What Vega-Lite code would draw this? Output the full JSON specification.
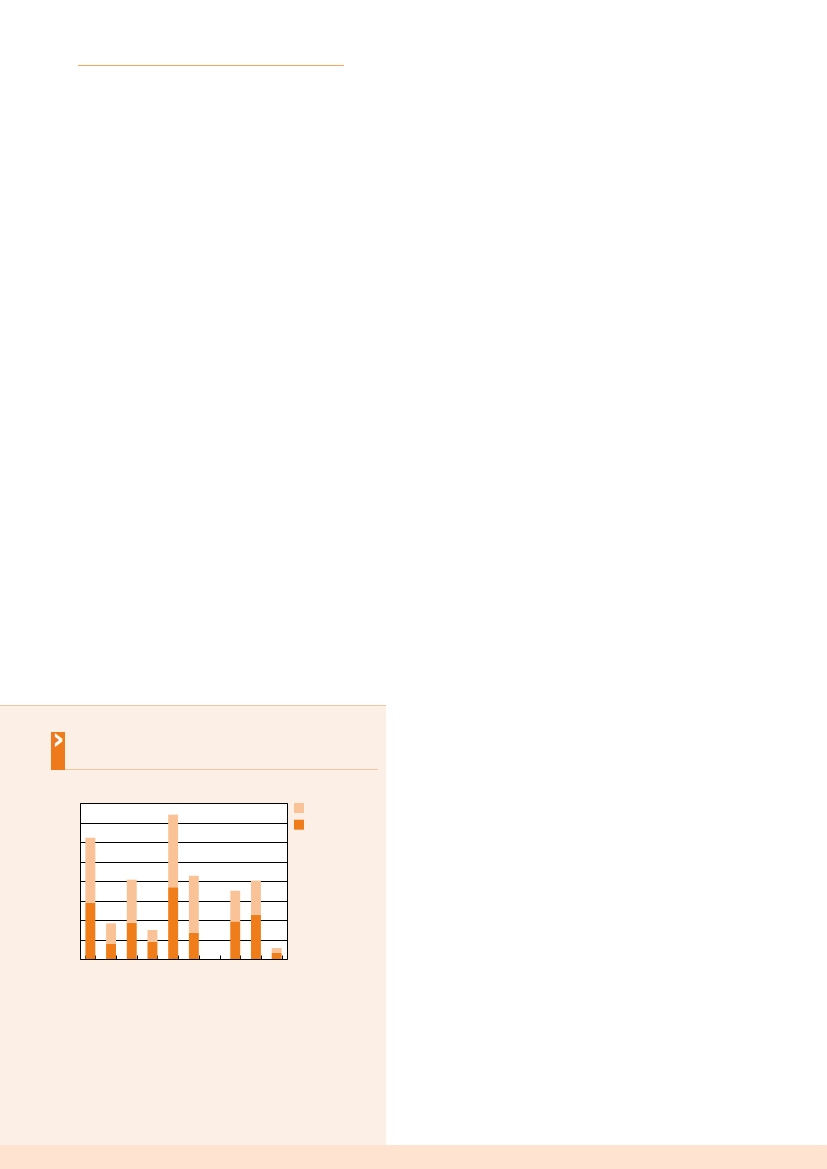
{
  "$schema": "https://vega.github.io/schema/vega-lite/v6.json",
  "background": "#FCF0E6",
  "padding": 0,
  "spacing": 0,
  "config": {"view": {"stroke": null}, "concat": {"spacing": 0}, "font": "DejaVu Sans"},
  "resolve": {"scale": {"color": "independent"}, "legend": {"color": "independent"}},
  "vconcat": [
    {"width": 827, "height": 65, "data": {"values": []}, "mark": "rect", "encoding": {}, "view": {"fill": "white", "stroke": null}},
    {"spacing": 0, "hconcat": [
      {"width": 78, "height": 1, "data": {"values": []}, "mark": "rect", "encoding": {}, "view": {"fill": "white", "stroke": null}},
      {"width": 266, "height": 1, "data": {"values": []}, "mark": "rect", "encoding": {}, "view": {"fill": "#FBA35A", "stroke": null}},
      {"width": 483, "height": 1, "data": {"values": []}, "mark": "rect", "encoding": {}, "view": {"fill": "white", "stroke": null}}
    ]},
    {"width": 827, "height": 639, "data": {"values": []}, "mark": "rect", "encoding": {}, "view": {"fill": "white", "stroke": null}},
    {"spacing": 0, "hconcat": [
      {"width": 386, "height": 1, "data": {"values": []}, "mark": "rect", "encoding": {}, "view": {"fill": "#F6C4A0", "stroke": null}},
      {"width": 441, "height": 1, "data": {"values": []}, "mark": "rect", "encoding": {}, "view": {"fill": "white", "stroke": null}}
    ]},
    {"spacing": 0,
     "resolve": {"scale": {"color": "independent"}, "legend": {"color": "independent"}},
     "hconcat": [
      {"spacing": 0,
       "resolve": {"scale": {"color": "independent"}, "legend": {"color": "independent"}},
       "vconcat": [
        {"width": 386, "height": 26, "data": {"values": []}, "mark": "rect", "encoding": {}, "view": {"fill": "#FCF0E6", "stroke": null}},
        {"spacing": 0, "hconcat": [
          {"width": 51, "height": 38, "data": {"values": []}, "mark": "rect", "encoding": {}, "view": {"fill": "#FCF0E6", "stroke": null}},
          {"width": 14, "height": 38, "data": {"values": [{"t": "›"}]}, "mark": {"type": "text", "color": "white", "fontSize": 30, "fontWeight": "bold", "dy": -11, "dx": 0.5, "clip": true}, "encoding": {"text": {"field": "t"}}, "view": {"fill": "#EE7A1C", "stroke": null}},
          {"spacing": 0, "vconcat": [
            {"width": 313, "height": 37, "data": {"values": []}, "mark": "rect", "encoding": {}, "view": {"fill": "#FCF0E6", "stroke": null}},
            {"width": 313, "height": 1, "data": {"values": []}, "mark": "rect", "encoding": {}, "view": {"fill": "#F6C4A0", "stroke": null}}
          ]},
          {"width": 8, "height": 38, "data": {"values": []}, "mark": "rect", "encoding": {}, "view": {"fill": "#FCF0E6", "stroke": null}}
        ]},
        {"width": 386, "height": 31.5, "data": {"values": []}, "mark": "rect", "encoding": {}, "view": {"fill": "#FCF0E6", "stroke": null}},
        {"spacing": 0,
         "resolve": {"scale": {"color": "independent"}, "legend": {"color": "independent"}},
         "hconcat": [
          {"width": 79, "height": 156, "data": {"values": []}, "mark": "rect", "encoding": {}, "view": {"fill": "#FCF0E6", "stroke": null}},
          {
          "width": 207,
          "height": 156,
          "view": {"fill": "white", "stroke": "black", "strokeWidth": 1},
          "data": {"values": [
            {"group": "1", "series": "part1", "value": 28.9},
            {"group": "1", "series": "part2", "value": 33.3},
            {"group": "2", "series": "part1", "value": 7.9},
            {"group": "2", "series": "part2", "value": 10.4},
            {"group": "3", "series": "part1", "value": 18.6},
            {"group": "3", "series": "part2", "value": 22.1},
            {"group": "4", "series": "part1", "value": 8.9},
            {"group": "4", "series": "part2", "value": 6.0},
            {"group": "5", "series": "part1", "value": 36.8},
            {"group": "5", "series": "part2", "value": 37.2},
            {"group": "6", "series": "part1", "value": 13.5},
            {"group": "6", "series": "part2", "value": 29.2},
            {"group": "8", "series": "part1", "value": 19.3},
            {"group": "8", "series": "part2", "value": 15.7},
            {"group": "9", "series": "part1", "value": 22.6},
            {"group": "9", "series": "part2", "value": 17.6},
            {"group": "10", "series": "part1", "value": 3.1},
            {"group": "10", "series": "part2", "value": 2.5}
          ]},
          "mark": {"type": "bar"},
          "encoding": {
            "x": {
              "field": "group", "type": "nominal", "sort": null,
              "scale": {"domain": ["1","2","3","4","5","6","7","8","9","10"], "paddingInner": 0.52, "paddingOuter": 0.26},
              "axis": {"title": null, "labels": false, "domain": false, "grid": false, "ticks": true, "tickSize": -4, "tickColor": "black", "tickWidth": 1, "tickBand": "extent", "minExtent": 0, "maxExtent": 0}
            },
            "y": {
              "field": "value", "type": "quantitative", "stack": "zero",
              "scale": {"domain": [0, 80], "nice": false},
              "axis": {"title": null, "labels": false, "ticks": false, "domain": false, "grid": true, "gridColor": "black", "gridWidth": 1, "gridOpacity": 1, "values": [0,10,20,30,40,50,60,70,80], "minExtent": 0, "maxExtent": 0}
            },
            "color": {
              "field": "series", "type": "nominal",
              "scale": {"domain": ["part2", "part1"], "range": ["#F9C397", "#EE7D1A"]},
              "legend": {"title": null, "orient": "right", "offset": 7, "padding": 0, "symbolType": "square", "symbolSize": 100, "symbolStrokeWidth": 0, "labelOpacity": 0, "labelFontSize": 10, "rowPadding": 6.7}
            },
            "order": {"field": "series", "sort": "ascending"}
          }
        }
        ]}
      ]},
      {"width": 441, "height": 439, "data": {"values": []}, "mark": "rect", "encoding": {}, "view": {"fill": "white", "stroke": null}}
    ]},
    {"width": 827, "height": 24, "data": {"values": []}, "mark": "rect", "encoding": {}, "view": {"fill": "#FDE3D0", "stroke": null}}
  ]
}
